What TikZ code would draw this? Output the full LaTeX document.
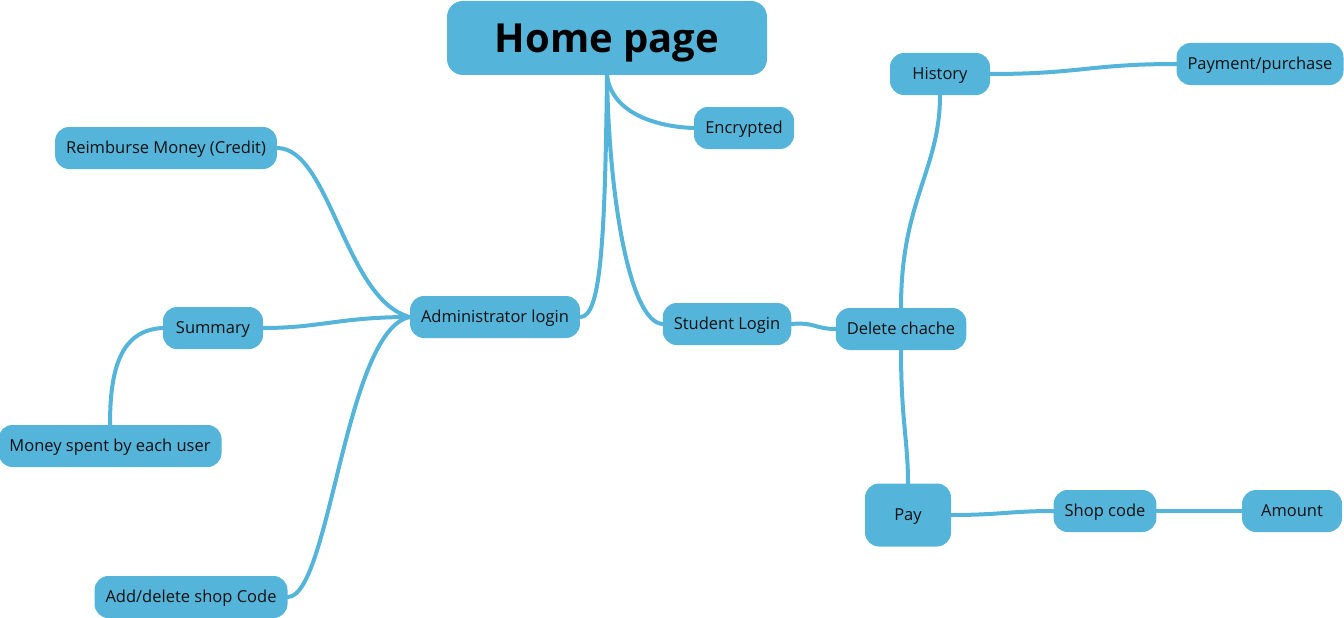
\documentclass[tikz,border=0pt]{standalone}
\usepackage{fontspec}
\setmainfont{Open Sans}
\definecolor{nodeblue}{RGB}{85,180,218}
\definecolor{txt}{RGB}{17,17,17}
\pgfdeclarelayer{bg}
\pgfsetlayers{bg,main}
\tikzset{
  topic/.style={fill=nodeblue, text=txt, rounded corners=14pt, minimum width=100pt, minimum height=42pt, inner xsep=11pt, inner ysep=0pt, text height=11.8pt, text depth=0pt, font=\fontsize{16.5}{20}\selectfont},
  root/.style={fill=nodeblue, text=black, rounded corners=16pt, minimum width=320pt, minimum height=74pt, inner ysep=0pt, text height=28.6pt, text depth=0pt, font=\fontsize{40}{48}\selectfont\bfseries},
  link/.style={draw=nodeblue, line width=4pt, line cap=round},
}
\begin{document}
\begin{tikzpicture}[x=1pt,y=-1pt]
\useasboundingbox (0,0) rectangle (1344,618);
\node[root] (home) at (607,38) {Home page};
\node[topic] (enc) at (744,128) {Encrypted};
\node[topic] (hist) at (940,74) {History};
\node[topic] (paypur) at (1260,64) {Payment/purchase};
\node[topic] (reimb) at (166,148) {Reimburse Money (Credit)};
\node[topic] (admin) at (495,317) {Administrator login};
\node[topic] (student) at (727,324) {Student Login};
\node[topic] (del) at (901,329) {Delete chache};
\node[topic] (summ) at (213,328) {Summary};
\node[topic] (money) at (110,446) {Money spent by each user};
\node[topic] (addel) at (191,597) {Add/delete shop Code};
\node[topic, minimum width=86pt, minimum height=63pt] (pay) at (908,515) {Pay};
\node[topic] (shop) at (1105,511) {Shop code};
\node[topic] (amount) at (1292,511) {Amount};
\begin{pgfonlayer}{bg}
\draw[link] (home.south) .. controls (605,250) and (600,317) .. (admin.east);
\draw[link] (home.south) .. controls (612,115) and (660,127) .. (enc.west);
\draw[link] (home.south) .. controls (609,200) and (630,322) .. (student.west);
\draw[link] (admin.west) .. controls (345,300) and (330,148) .. (reimb.east);
\draw[link] (admin.west) .. controls (340,317) and (320,328) .. (summ.east);
\draw[link] (admin.west) .. controls (345,330) and (330,597) .. (addel.east);
\draw[link] (summ.west) .. controls (120,330) and (110,370) .. (money.north);
\draw[link] (student.east) .. controls (815,322) and (815,329) .. (del.west);
\draw[link] (del.north) .. controls (901,200) and (940,170) .. (hist.south);
\draw[link] (hist.east) .. controls (1080,74) and (1090,64) .. (paypur.west);
\draw[link] (del.south) .. controls (901,420) and (908,440) .. (pay.north);
\draw[link] (pay.east) .. controls (1000,515) and (1010,511) .. (shop.west);
\draw[link] (shop.east) -- (amount.west);
\end{pgfonlayer}
\end{tikzpicture}
\end{document}
